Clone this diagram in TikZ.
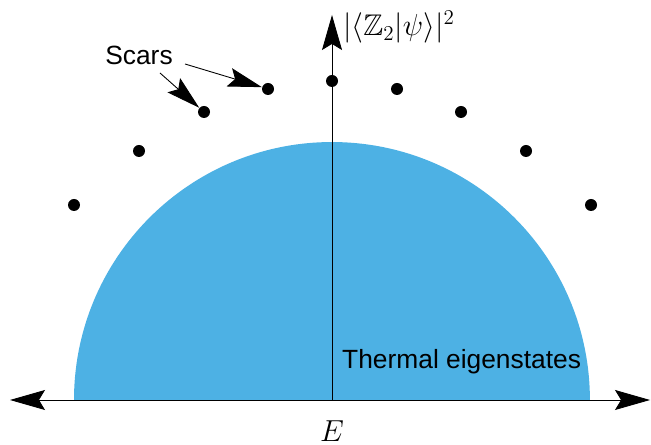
\documentclass[tikz,border=0pt]{standalone}
\usepackage{amsmath,amssymb}
\usepackage{fontspec}
\setmainfont{Liberation Sans}
\usetikzlibrary{arrows.meta}
\definecolor{thermblue}{RGB}{77,177,228}
\begin{document}
\begin{tikzpicture}[
    x=0.02cm, y=0.02cm,
    every node/.style={font=\fontsize{15}{18}\selectfont},
    mathlabel/.style={font=\fontsize{17}{20}\selectfont},
    axis/.style={line width=0.5pt, -{Stealth[length=0.7cm, width=0.4cm, inset=0.12cm]}},
    scar/.style={circle, fill=black, inner sep=0pt, minimum size=0.24cm},
    pointer/.style={line width=0.5pt, -{Stealth[length=0.68cm, width=0.38cm, inset=0.12cm]}}
]
\useasboundingbox (0,0) rectangle (651,445);
\coordinate (origin) at (332,45);
\coordinate (left) at (10,45);
\coordinate (right) at (650,45);
\coordinate (top) at (332,430);

% thermal bulk
\fill[thermblue] (74,45) arc[start angle=180, end angle=0, radius=5.16cm] -- cycle;

\draw[axis] (origin) -- (left);
\draw[axis] (origin) -- (right);
\draw[axis] (origin) -- (top);

% scar states
\foreach \i/\x/\y in {1/74/240, 2/139/294, 3/204/333, 4/268/356, 5/332/364,
                      6/397/356, 7/461/333, 8/526/294, 9/591/240}
  \node[scar] (s\i) at (\x,\y) {};

\node (scars) at (139,390) {Scars};
\node[mathlabel, anchor=west, inner sep=1pt] (overlap) at (341,418) {$|\langle\mathbb{Z}_2|\psi\rangle|^2$};
\node[mathlabel] (energy) at (332,14) {$E$};
\node[anchor=west] (thermal) at (336,83) {Thermal eigenstates};

\coordinate (p1) at ([shift={(21,-18)}]scars.center);
\coordinate (p2) at ([shift={(46,-9)}]scars.center);
\draw[pointer] (p1) -- (s3);
\draw[pointer] (p2) -- (s4);
\end{tikzpicture}
\end{document}
